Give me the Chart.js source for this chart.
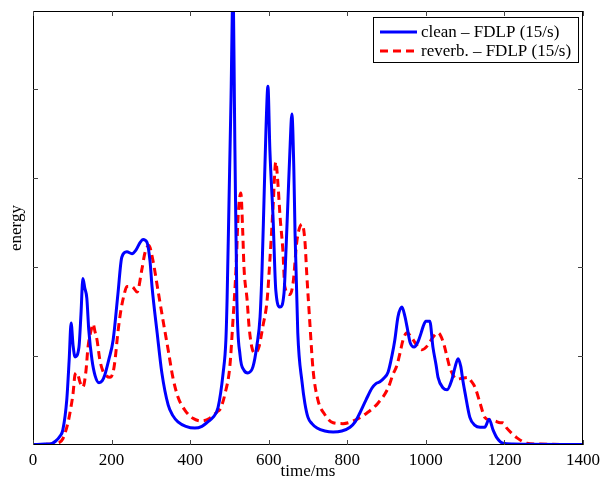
<!DOCTYPE html>
<html>
<head>
<meta charset="utf-8">
<script src="https://cdn.jsdelivr.net/npm/chart.js@4/dist/chart.umd.min.js"></script>
<style>
  html, body { margin: 0; padding: 0; background: #fff; }
  #wrap { width: 602px; height: 482px; }
</style>
</head>
<body>
<div id="wrap"><canvas id="energyChart" width="602" height="482"></canvas></div>
<script>
// clean speech, FDLP envelope (time in ms, energy in y-tick units)
const cleanTime = [0, 30, 43, 58, 69, 76, 86, 92, 97, 102, 107, 117, 122, 127, 132, 137, 142, 150, 158, 168, 176, 183, 193, 204, 216, 226, 239, 252, 262, 272, 280, 290, 298, 303, 316, 328, 344, 356, 369, 389, 412, 430, 445, 458, 471, 484, 491, 494, 499, 504, 509, 514, 519, 527, 537, 547, 560, 570, 578, 583, 588, 593, 598, 603, 611, 618, 629, 639, 644, 649, 654, 659, 664, 667, 674, 685, 692, 700, 710, 723, 743, 764, 786, 807, 820, 832, 848, 863, 873, 883, 893, 904, 914, 921, 929, 939, 947, 952, 960, 970, 980, 988, 993, 1000, 1010, 1018, 1026, 1031, 1044, 1054, 1066, 1074, 1082, 1089, 1094, 1100, 1112, 1125, 1138, 1150, 1161, 1171, 1181, 1196, 1222, 1400]
const cleanEnergy = [0.005, 0.01, 0.01, 0.045, 0.10, 0.17, 0.51, 0.95, 1.37, 1.12, 0.99, 1.10, 1.46, 1.87, 1.76, 1.65, 1.29, 0.96, 0.78, 0.70, 0.72, 0.79, 0.96, 1.18, 1.69, 2.11, 2.17, 2.15, 2.19, 2.27, 2.31, 2.28, 2.06, 1.78, 1.26, 0.81, 0.45, 0.33, 0.26, 0.21, 0.19, 0.21, 0.26, 0.31, 0.42, 0.81, 1.18, 1.63, 2.75, 3.88, 5.1, 3.31, 1.63, 1.01, 0.84, 0.81, 0.88, 1.12, 1.44, 1.97, 2.75, 3.54, 4.03, 3.31, 2.56, 1.74, 1.55, 1.71, 2.19, 2.75, 3.31, 3.72, 3.09, 2.38, 1.26, 0.70, 0.47, 0.31, 0.24, 0.19, 0.157, 0.146, 0.157, 0.20, 0.26, 0.36, 0.51, 0.64, 0.69, 0.71, 0.75, 0.82, 1.01, 1.18, 1.44, 1.55, 1.44, 1.33, 1.15, 1.10, 1.16, 1.26, 1.33, 1.39, 1.39, 1.10, 0.90, 0.76, 0.64, 0.62, 0.73, 0.87, 0.97, 0.88, 0.73, 0.58, 0.31, 0.22, 0.20, 0.20, 0.29, 0.17, 0.08, 0.02, 0.01, 0.005]

// reverberant speech, FDLP envelope
const reverbTime = [0, 48, 64, 76, 89, 94, 102, 107, 112, 120, 127, 135, 140, 148, 153, 158, 163, 170, 178, 186, 196, 204, 209, 216, 224, 232, 239, 252, 265, 277, 285, 295, 305, 318, 331, 344, 356, 369, 387, 407, 430, 450, 468, 476, 481, 489, 501, 509, 517, 522, 529, 534, 537, 545, 550, 557, 565, 575, 585, 596, 603, 611, 618, 624, 629, 636, 641, 654, 662, 672, 685, 692, 697, 705, 713, 725, 743, 764, 789, 820, 850, 878, 904, 916, 926, 934, 942, 952, 965, 977, 990, 1005, 1018, 1031, 1044, 1054, 1061, 1079, 1092, 1107, 1115, 1125, 1138, 1150, 1163, 1176, 1189, 1196, 1206, 1219, 1232, 1257, 1291, 1400]
const reverbEnergy = [0.005, 0.01, 0.02, 0.07, 0.25, 0.36, 0.58, 0.79, 0.81, 0.70, 0.65, 0.84, 1.10, 1.29, 1.36, 1.27, 1.18, 0.96, 0.83, 0.78, 0.76, 0.82, 0.96, 1.26, 1.52, 1.69, 1.78, 1.78, 1.72, 1.97, 2.16, 2.24, 2.08, 1.74, 1.40, 1.07, 0.76, 0.54, 0.39, 0.30, 0.27, 0.30, 0.37, 0.40, 0.45, 0.58, 0.88, 1.40, 2.00, 2.56, 2.83, 2.38, 2.00, 1.63, 1.33, 1.10, 1.03, 1.10, 1.33, 1.63, 2.08, 2.67, 3.18, 2.90, 2.56, 2.19, 1.78, 1.69, 1.82, 2.30, 2.48, 2.30, 1.91, 1.35, 0.84, 0.51, 0.34, 0.25, 0.24, 0.28, 0.36, 0.47, 0.64, 0.79, 0.89, 1.03, 1.18, 1.26, 1.20, 1.12, 1.07, 1.12, 1.21, 1.26, 1.16, 0.99, 0.87, 0.74, 0.75, 0.76, 0.72, 0.65, 0.47, 0.31, 0.28, 0.27, 0.25, 0.25, 0.19, 0.13, 0.08, 0.02, 0.01, 0.005]

const xTicks = [0, 200, 400, 600, 800, 1000, 1200, 1400]
const yTicks = [1, 2, 3, 4]
const seriesNames = ["clean \u2013 FDLP (15/s)", "reverb. \u2013 FDLP (15/s)"]

const serif = "'Liberation Serif', 'Times New Roman', serif"
Chart.defaults.font.family = serif
Chart.defaults.color = "#000"

function toPoints(xs, ys) {
	return xs.map((x, i) => ({ x: x, y: ys[i] }))
}

// MATLAB-like box, inward ticks and boxed legend
const matlabFrame = {
	id: "matlabFrame",
	afterDatasetsDraw(chart) {
		const ctx = chart.ctx
		const a = chart.chartArea
		const xs = chart.scales.x
		const ys = chart.scales.y
		ctx.save()
		ctx.strokeStyle = "#000"
		ctx.lineWidth = 1
		ctx.strokeRect(a.left + 0.5, a.top + 0.5, a.right - a.left - 1, a.bottom - a.top - 1)

		ctx.strokeStyle = "#444"
		ctx.beginPath()
		xTicks.forEach(v => {
			const px = Math.round(xs.getPixelForValue(v)) + 0.5
			ctx.moveTo(px, a.bottom)
			ctx.lineTo(px, a.bottom - 5)
			ctx.moveTo(px, a.top)
			ctx.lineTo(px, a.top + 5)
		})
		yTicks.forEach(v => {
			const py = Math.round(ys.getPixelForValue(v)) + 0.5
			ctx.moveTo(a.left, py)
			ctx.lineTo(a.left + 5, py)
			ctx.moveTo(a.right, py)
			ctx.lineTo(a.right - 5, py)
		})
		ctx.stroke()

		// legend
		const lx = 373, ly = 17, lw = 205, lh = 45
		ctx.fillStyle = "#fff"
		ctx.fillRect(lx, ly, lw, lh)
		ctx.strokeStyle = "#000"
		ctx.strokeRect(lx + 0.5, ly + 0.5, lw, lh)
		chart.data.datasets.forEach((ds, i) => {
			const y = ly + 15 + i * 19
			ctx.strokeStyle = ds.borderColor
			ctx.lineWidth = ds.borderWidth
			ctx.setLineDash(ds.borderDash || [])
			ctx.beginPath()
			ctx.moveTo(lx + 7, y)
			ctx.lineTo(lx + 44, y)
			ctx.stroke()
			ctx.setLineDash([])
			ctx.fillStyle = "#000"
			ctx.font = "17px " + serif
			ctx.textBaseline = "middle"
			ctx.fillText(ds.label, lx + 48, y + 1)
		})
		ctx.restore()
	}
}

const ctx = document.getElementById("energyChart").getContext("2d")
const chart = new Chart(ctx, {
	type: "line",
	data: {
		datasets: [
			{
				label: seriesNames[0],
				data: toPoints(cleanTime, cleanEnergy),
				borderColor: "#0000ff",
				borderWidth: 3,
				pointRadius: 0,
				fill: false,
				cubicInterpolationMode: "monotone",
				clip: 0,
			},
			{
				label: seriesNames[1],
				data: toPoints(reverbTime, reverbEnergy),
				borderColor: "#ff0000",
				borderWidth: 3,
				borderDash: [8, 5],
				pointRadius: 0,
				fill: false,
				cubicInterpolationMode: "monotone",
				clip: 0,
			},
		],
	},
	options: {
		responsive: false,
		animation: false,
		layout: { padding: { top: 11, right: 19, left: 0, bottom: 0 } },
		plugins: {
			legend: { display: false },
			tooltip: { enabled: false },
		},
		scales: {
			x: {
				type: "linear",
				min: 0,
				max: 1400,
				afterFit: s => { s.height = 37; s.paddingLeft = 0; s.paddingRight = 0 },
				ticks: {
					stepSize: 200, padding: 5, maxRotation: 0, font: { size: 17 }, color: "#000",
					callback: v => String(v),
				},
				grid: { display: false, drawTicks: false },
				border: { display: false },
				title: { display: true, text: "time/ms", font: { size: 17 }, padding: { top: 0, bottom: 0 } },
			},
			y: {
				type: "linear",
				min: 0,
				max: 4.876,
				afterFit: s => { s.width = 33; s.paddingTop = 0; s.paddingBottom = 0 },
				ticks: { display: false, stepSize: 1 },
				grid: { display: false, drawTicks: false },
				border: { display: false },
				title: { display: true, text: "energy", font: { size: 17 }, padding: { top: 6, bottom: 0 } },
			},
		},
	},
	plugins: [matlabFrame],
})
</script>
</body>
</html>
